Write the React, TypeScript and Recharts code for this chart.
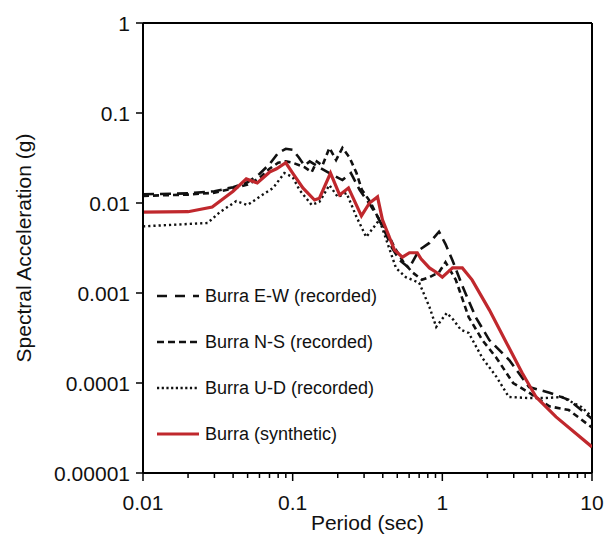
import { LineChart, Line, XAxis, YAxis, ReferenceLine } from 'recharts';

// periods (sec) and spectral accelerations (g)
const ewT = [0.01, 0.02, 0.03, 0.04, 0.05, 0.06, 0.07, 0.08, 0.09, 0.1, 0.11, 0.12, 0.13, 0.15, 0.176, 0.215, 0.245, 0.28, 0.33, 0.37, 0.4, 0.46, 0.52, 0.6, 0.7, 0.82, 0.95, 1.05, 1.17, 1.36, 1.67, 2.06, 2.8, 3.8, 5.2, 7, 10];
const ewSA = [0.0125, 0.0128, 0.0135, 0.015, 0.017, 0.021, 0.027, 0.036, 0.04, 0.039, 0.032, 0.026, 0.029, 0.025, 0.0215, 0.018, 0.0215, 0.014, 0.0095, 0.007, 0.0054, 0.0032, 0.0023, 0.0019, 0.003, 0.0036, 0.0048, 0.0035, 0.0023, 0.0012, 0.00054, 0.0003, 0.00018, 0.00009, 0.000078, 0.000065, 0.00004];

const nsT = [0.01, 0.02, 0.03, 0.04, 0.05, 0.06, 0.07, 0.08, 0.09, 0.1, 0.12, 0.134, 0.145, 0.158, 0.176, 0.195, 0.215, 0.24, 0.267, 0.29, 0.33, 0.37, 0.42, 0.48, 0.55, 0.63, 0.73, 0.82, 0.95, 1.05, 1.23, 1.5, 1.85, 2.3, 2.97, 3.8, 5.2, 7, 10];
const nsSA = [0.012, 0.0124, 0.013, 0.0145, 0.016, 0.019, 0.024, 0.028, 0.029, 0.028, 0.025, 0.022, 0.029, 0.026, 0.041, 0.03, 0.041, 0.032, 0.0215, 0.014, 0.0103, 0.007, 0.005, 0.0032, 0.0022, 0.0017, 0.0014, 0.0015, 0.0017, 0.0022, 0.0014, 0.00054, 0.0003, 0.00019, 0.0001, 0.000078, 0.000055, 0.00005, 0.000032];

const udT = [0.01, 0.027, 0.0326, 0.042, 0.05, 0.06, 0.074, 0.088, 0.1, 0.111, 0.134, 0.151, 0.176, 0.2, 0.229, 0.267, 0.31, 0.38, 0.49, 0.57, 0.7, 0.82, 0.91, 1.07, 1.19, 1.33, 1.5, 1.85, 2.3, 2.78, 3.8, 4.9, 6.3, 8.5, 10];
const udSA = [0.0055, 0.006, 0.0079, 0.0105, 0.0095, 0.0117, 0.0147, 0.0215, 0.0194, 0.014, 0.0095, 0.0103, 0.0158, 0.0117, 0.0129, 0.007, 0.0042, 0.0065, 0.0019, 0.0015, 0.0013, 0.0007, 0.00042, 0.0006, 0.0005, 0.00039, 0.00036, 0.00019, 0.000117, 0.00007, 0.000068, 0.000068, 0.00007, 0.000054, 0.000042];

const synT = [0.01, 0.02, 0.029, 0.04, 0.049, 0.058, 0.07, 0.078, 0.09, 0.1, 0.117, 0.14, 0.151, 0.179, 0.206, 0.236, 0.288, 0.326, 0.369, 0.398, 0.479, 0.541, 0.603, 0.68, 0.72, 0.82, 0.91, 1.0, 1.17, 1.36, 1.58, 2.06, 2.68, 3.41, 4.23, 5.75, 10];
const synSA = [0.0079, 0.008, 0.009, 0.0135, 0.0185, 0.0167, 0.022, 0.024, 0.028, 0.0215, 0.0147, 0.0108, 0.0113, 0.0215, 0.0123, 0.0147, 0.0072, 0.01, 0.0117, 0.0065, 0.003, 0.0025, 0.0028, 0.0028, 0.0024, 0.0019, 0.0017, 0.0015, 0.0019, 0.0019, 0.0014, 0.00065, 0.00028, 0.00013, 0.00007, 0.000042, 0.0000195];

const xMajor = [0.01, 0.1, 1, 10];
const xMajorLabels = ['0.01', '0.1', '1', '10'];
const xMinor = [0.02, 0.03, 0.04, 0.05, 0.06, 0.07, 0.08, 0.09, 0.2, 0.3, 0.4, 0.5, 0.6, 0.7, 0.8, 0.9, 2, 3, 4, 5, 6, 7, 8, 9];
const yTicks = [0.00001, 0.0001, 0.001, 0.01, 0.1, 1];
const yTickLabels = ['0.00001', '0.0001', '0.001', '0.01', '0.1', '1'];

const zip = (t: number[], sa: number[]) => t.map((v, i) => ({ t: v, sa: sa[i] }));

const series = [
  { name: 'Burra E-W (recorded)', data: zip(ewT, ewSA), color: '#111', width: 2.6, dash: '11 6', legendDash: '10 8' },
  { name: 'Burra N-S (recorded)', data: zip(nsT, nsSA), color: '#111', width: 2.6, dash: '6 4', legendDash: '7 4' },
  { name: 'Burra U-D (recorded)', data: zip(udT, udSA), color: '#111', width: 2.4, dash: '2.2 3', legendDash: '2.2 2.5' },
  { name: 'Burra (synthetic)', data: zip(synT, synSA), color: '#c0282d', width: 3.2, dash: undefined, legendDash: undefined },
];

const font = '"Liberation Sans", Arial, sans-serif';

function XTick({ x, y, payload }: any) {
  const i = xMajor.indexOf(payload.value);
  const major = i >= 0;
  return (
    <g>
      <line x1={x} y1={y} x2={x} y2={y + (major ? 8 : 5)} stroke="#000" strokeWidth={1.5} />
      {major && (
        <text x={x} y={y + 37} textAnchor="middle" fontSize={21} fontFamily={font} fill="#111">
          {xMajorLabels[i]}
        </text>
      )}
    </g>
  );
}

function YTick({ x, y, payload }: any) {
  const i = yTicks.indexOf(payload.value);
  return (
    <g>
      <line x1={x - 7} y1={y} x2={x} y2={y} stroke="#000" strokeWidth={1.5} />
      <text x={x - 13} y={y + 7.5} textAnchor="end" fontSize={21} fontFamily={font} fill="#111">
        {yTickLabels[i]}
      </text>
    </g>
  );
}

function YTitle({ viewBox }: any) {
  const cy = viewBox.y + viewBox.height / 2;
  return (
    <text x={31} y={cy} transform={`rotate(-90 31 ${cy})`} textAnchor="middle" fontSize={21} fontFamily={font} fill="#111">
      Spectral Acceleration (g)
    </text>
  );
}

function XTitle({ viewBox }: any) {
  const cx = viewBox.x + viewBox.width / 2;
  return (
    <text x={cx} y={530} textAnchor="middle" fontSize={21} fontFamily={font} fill="#111">
      Period (sec)
    </text>
  );
}

export default function App() {
  return (
    <div style={{ position: 'absolute', left: 0, top: 0, width: 604, height: 536, background: '#fff' }}>
      <LineChart width={604} height={536} margin={{ top: 23, right: 12, left: 0, bottom: 0 }}>
        <XAxis
          dataKey="t"
          type="number"
          scale="log"
          domain={[0.01, 10]}
          allowDataOverflow
          ticks={[...xMajor, ...xMinor]}
          interval={0}
          tick={<XTick />}
          tickLine={false}
          tickSize={0}
          tickMargin={0}
          height={63}
          axisLine={{ stroke: '#000', strokeWidth: 2 }}
          label={<XTitle />}
        />
        <YAxis
          type="number"
          scale="log"
          domain={[0.00001, 1]}
          allowDataOverflow
          ticks={yTicks}
          interval={0}
          tick={<YTick />}
          tickLine={false}
          tickSize={0}
          tickMargin={0}
          width={143}
          axisLine={{ stroke: '#000', strokeWidth: 2 }}
          label={<YTitle />}
        />
        <ReferenceLine y={1} stroke="#000" strokeWidth={2} />
        <ReferenceLine x={10} stroke="#000" strokeWidth={2} />
        {series.map((s) => (
          <Line
            key={s.name}
            data={s.data}
            dataKey="sa"
            name={s.name}
            type="linear"
            stroke={s.color}
            strokeWidth={s.width}
            strokeDasharray={s.dash}
            dot={false}
            activeDot={false}
            isAnimationActive={false}
          />
        ))}
      </LineChart>
      <div style={{ position: 'absolute', left: 155, top: 285, fontFamily: font, fontSize: 18, color: '#111' }}>
        {series.map((s) => (
          <div key={s.name} style={{ display: 'flex', alignItems: 'center', height: 22, marginBottom: 24 }}>
            <svg width={46} height={10} style={{ marginRight: 4 }}>
              <line x1={2} y1={5} x2={44} y2={5} stroke={s.color} strokeWidth={s.width} strokeDasharray={s.legendDash} />
            </svg>
            <span style={{ lineHeight: '22px' }}>{s.name}</span>
          </div>
        ))}
      </div>
    </div>
  );
}
